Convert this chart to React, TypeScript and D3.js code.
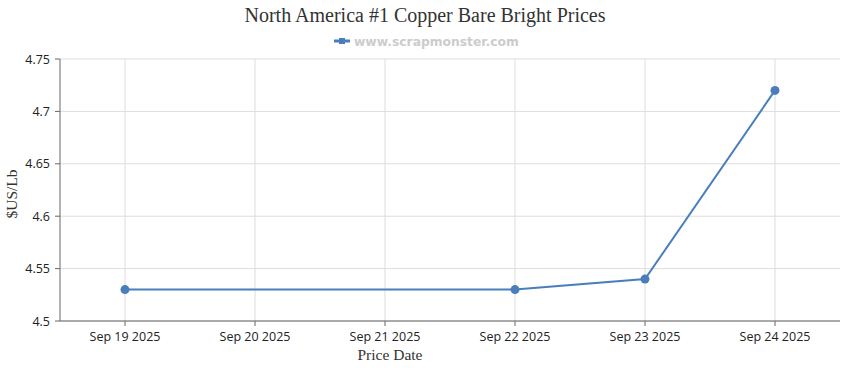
import React from "react";
import * as d3 from "d3";

const dates = ["2025-09-19", "2025-09-22", "2025-09-23", "2025-09-24"];
const prices = [4.53, 4.53, 4.54, 4.72];
const xTickDates = ["2025-09-19", "2025-09-20", "2025-09-21", "2025-09-22", "2025-09-23", "2025-09-24"];
const yTicks = [4.5, 4.55, 4.6, 4.65, 4.7, 4.75];

const W = 850, H = 370;
const M = { left: 60, right: 10, top: 59, bottom: 49 };
const parse = (s: string) => { const [y, m, d] = s.split("-").map(Number); return new Date(y, m - 1, d); };
const fmt = d3.timeFormat("%b %d %Y");

export default function App() {
  const x = d3.scaleTime()
    .domain([d3.timeHour.offset(parse("2025-09-19"), -12), d3.timeHour.offset(parse("2025-09-24"), 12)])
    .range([M.left, W - M.right]);
  const y = d3.scaleLinear().domain([4.5, 4.75]).range([H - M.bottom, M.top]);
  const pts = dates.map((d, i) => [x(parse(d)), y(prices[i])] as [number, number]);
  const line = d3.line()(pts) || "";
  const axisColor = "#666";
  const color = "#4a7ebb";
  return (
    <svg width={W} height={H} style={{ position: "absolute", left: 0, top: 0 }}>
      <rect width={W} height={H} fill="#fff" />
      <text x={425} y={22} textAnchor="middle" fontFamily="Liberation Serif, serif" fontSize={20} fill="#333">North America #1 Copper Bare Bright Prices</text>
      <line x1={334} x2={350} y1={41} y2={41} stroke={color} strokeWidth={3} />
      <rect x={339} y={38} width={6} height={6} fill={color} />
      <text x={354} y={45.5} fontFamily="DejaVu Sans, Verdana, sans-serif" fontWeight="bold" fontSize={12.3} fill="#cccccc">www.scrapmonster.com</text>
      {yTicks.map(t => (
        <g key={t}>
          <line x1={M.left} x2={W - M.right} y1={y(t)} y2={y(t)} stroke="#ddd" />
          <line x1={M.left - 5} x2={M.left} y1={y(t)} y2={y(t)} stroke={axisColor} />
          <text x={M.left - 10} y={y(t) + 4.5} textAnchor="end" fontFamily="Open Sans, sans-serif" fontSize={12.5} fill="#222">{String(t)}</text>
        </g>
      ))}
      {xTickDates.map(s => {
        const xx = x(parse(s));
        return (
          <g key={s}>
            <line x1={xx} x2={xx} y1={M.top} y2={H - M.bottom} stroke="#ddd" />
            <line x1={xx} x2={xx} y1={H - M.bottom} y2={H - M.bottom + 5} stroke={axisColor} />
            <text x={xx} y={H - M.bottom + 20} textAnchor="middle" fontFamily="Open Sans, sans-serif" fontSize={12.5} fill="#222">{fmt(parse(s))}</text>
          </g>
        );
      })}
      <line x1={M.left} x2={M.left} y1={M.top} y2={H - M.bottom} stroke={axisColor} />
      <line x1={M.left} x2={W - M.right} y1={H - M.bottom} y2={H - M.bottom} stroke={axisColor} />
      <path d={line} fill="none" stroke={color} strokeWidth={2} />
      {pts.map((p, i) => <circle key={i} cx={p[0]} cy={p[1]} r={4.5} fill={color} />)}
      <text x={390} y={360} textAnchor="middle" fontFamily="Liberation Serif, serif" fontSize={15.5} fill="#333">Price Date</text>
      <text transform={`translate(17,${194}) rotate(-90)`} textAnchor="middle" fontFamily="Liberation Serif, serif" fontSize={15.5} fill="#333">$US/Lb</text>
    </svg>
  );
}
